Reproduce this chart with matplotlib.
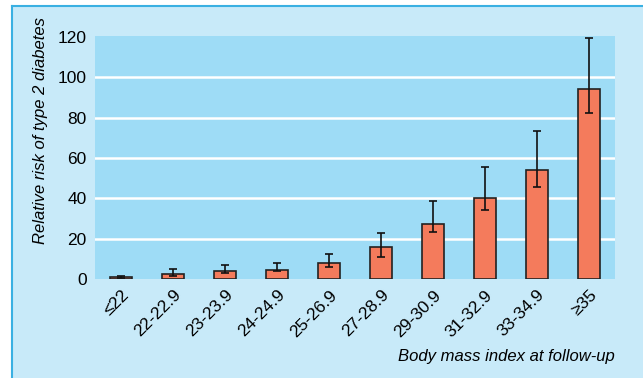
import matplotlib
matplotlib.use('Agg')
import matplotlib.pyplot as plt

plt.rcParams['font.family'] = ['Liberation Sans Narrow', 'Liberation Sans', 'DejaVu Sans']

categories = ['≤22', '22-22.9', '23-23.9', '24-24.9', '25-26.9',
              '27-28.9', '29-30.9', '31-32.9', '33-34.9', '≥35']
risk = [1.0, 2.7, 4.0, 4.5, 8.0, 15.8, 27.3, 40.2, 54.0, 94.0]
ci_low = [0.6, 1.6, 3.1, 3.8, 5.8, 11.0, 23.2, 34.1, 45.7, 82.4]
ci_high = [1.5, 5.0, 7.0, 7.8, 12.5, 23.0, 38.6, 55.6, 73.2, 119.3]
y_ticks = [0, 20, 40, 60, 80, 100, 120]

panel_bg = '#C8EAF9'
plot_bg = '#9EDCF6'
bar_color = '#F47B5C'

fig = plt.figure(figsize=(6.43, 3.78), dpi=100)
fig.patch.set_facecolor('white')

# light blue panel with a blue left/top border
bg = fig.add_axes([12 / 643, 0, 1 - 12 / 643, 1 - 6 / 378], zorder=0)
bg.set_facecolor(panel_bg)
bg.set_xticks([])
bg.set_yticks([])
for side, s in bg.spines.items():
    if side in ('left', 'top'):
        s.set_color('#3AB0E2')
        s.set_linewidth(1.5)
    else:
        s.set_visible(False)

ax = fig.add_axes([95 / 643, 1 - 279 / 378, 520 / 643, 243 / 378], zorder=1)
ax.set_facecolor(plot_bg)

x = range(len(categories))
yerr = [[r - lo for r, lo in zip(risk, ci_low)],
        [hi - r for r, hi in zip(risk, ci_high)]]
for t in y_ticks[1:-1]:
    ax.axhline(t, color='white', linewidth=1.8, zorder=1)
ax.bar(x, risk, width=0.42, color=bar_color, edgecolor='#222222',
       linewidth=1.2, zorder=3)
ax.errorbar(x, risk, yerr=yerr, fmt='none', ecolor='#111111',
            elinewidth=1.2, capsize=3, capthick=1.2, zorder=4)

ax.set_xlim(-0.5, 9.5)
ax.set_ylim(0, 120.5)
ax.set_yticks(y_ticks)
for s in ax.spines.values():
    s.set_visible(False)
ax.tick_params(axis='both', length=0, labelsize=12.5, pad=6)
ax.set_xticks(list(x))
ax.set_xticklabels(categories, rotation=45, ha='right', rotation_mode='anchor',
                   fontsize=12.5)

ax.set_ylabel('Relative risk of type 2 diabetes', fontsize=12, style='italic')
ax.yaxis.set_label_coords(-0.09, 0.61)
fig.text(615 / 643, 1 - 357 / 378, 'Body mass index at follow-up',
         ha='right', va='center', fontsize=12, style='italic')

fig.savefig('out.png', dpi=100, facecolor=fig.get_facecolor())
